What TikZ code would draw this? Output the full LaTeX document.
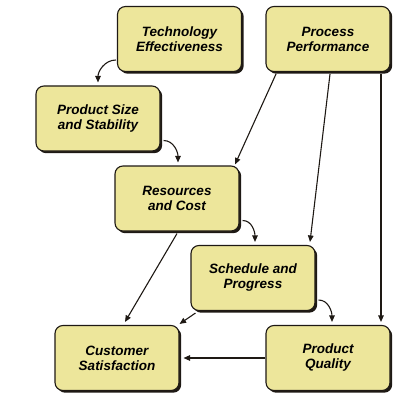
\documentclass[tikz,border=0pt]{standalone}
\usepackage{fontspec}
\setmainfont{Liberation Sans}
\usetikzlibrary{arrows.meta,shadows}
\definecolor{boxfill}{RGB}{237,230,155}
\definecolor{boxline}{RGB}{30,25,20}
\begin{document}
\begin{tikzpicture}[x=1pt,y=-1pt,
  box/.style={draw=boxline, line width=1.1pt, fill=boxfill, rounded corners=8pt,
    minimum width=124pt, minimum height=65pt, align=center, inner sep=0pt,
    font=\fontsize{13.5}{15}\selectfont\bfseries\itshape,
    drop shadow={shadow xshift=2.2pt, shadow yshift=-2.2pt, opacity=1, fill=boxline}},
  conn/.style={draw=boxline, line width=1.1pt, -{Triangle[length=6.5pt,width=5.5pt]}}]
\useasboundingbox (0,0) rectangle (404,401);
\node[box] (tech) at (179.5,39) {Technology\\Effectiveness};
\node[box] (proc) at (328,39) {Process\\Performance};
\node[box] (size) at (98,118.5) {Product Size\\and Stability};
\node[box] (res) at (177,198.5) {Resources\\and Cost};
\node[box] (sched) at (253,278) {Schedule and\\Progress};
\node[box] (cust) at (117,358) {Customer\\Satisfaction};
\node[box] (qual) at (328,358) {Product\\Quality};
% curved arrows
\draw[conn] ([yshift=-21pt,xshift=-1pt]tech.west) to[out=180,in=90] ([yshift=3pt]size.north);
\draw[conn] ([yshift=-22pt,xshift=3pt]size.east) to[out=0,in=90] ([xshift=1pt,yshift=3pt]res.north);
\draw[conn] ([yshift=-22pt,xshift=3pt]res.east) to[out=0,in=90] ([xshift=2pt,yshift=3pt]sched.north);
\draw[conn] ([yshift=-22pt,xshift=3pt]sched.east) to[out=0,in=90] ([xshift=4pt,yshift=3pt]qual.north);
% straight arrows
\draw[conn] ([xshift=-52pt,yshift=-2pt]proc.south) -- ([xshift=58pt,yshift=1pt]res.north);
\draw[conn] ([xshift=2pt,yshift=-2pt]proc.south) -- ([xshift=57pt,yshift=3pt]sched.north);
\draw[conn] ([xshift=53pt,yshift=-2pt]proc.south) -- ([xshift=53pt,yshift=3pt]qual.north);
\draw[conn] ([yshift=-2pt]res.south) -- ([xshift=8pt,yshift=3pt]cust.north);
\draw[conn] ([xshift=5pt,yshift=-2pt]sched.south west) -- ([xshift=0pt,yshift=1pt]cust.north east);
\draw[conn] (qual.west) -- ([xshift=4pt]cust.east);
\end{tikzpicture}
\end{document}
